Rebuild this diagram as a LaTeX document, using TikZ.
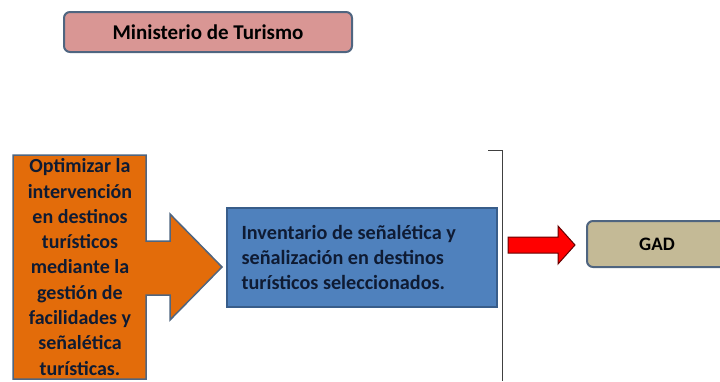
\documentclass[tikz,border=0pt]{standalone}
\usepackage{fontspec}
\setmainfont{Carlito}
\definecolor{rosa}{HTML}{D99694}
\definecolor{naranja}{HTML}{E36C0A}
\definecolor{azul}{HTML}{4F81BD}
\definecolor{azulborde}{HTML}{385D8A}
\definecolor{borde}{HTML}{4F6580}
\definecolor{arena}{HTML}{C4BA96}
\definecolor{tinta}{HTML}{0F1B33}
\tikzset{
  caja/.style={draw=borde,line width=2pt,rounded corners=6pt,font=\bfseries\fontsize{19}{25}\selectfont,inner sep=0pt},
}
\begin{document}
\begin{tikzpicture}[x=1pt,y=-1pt]
	\useasboundingbox (0,0) rectangle (720,381);
	% organismo rector
	\node[caja,fill=rosa,minimum width=288pt,minimum height=40pt,font=\bfseries\fontsize{21}{25}\selectfont] (ministerio) at (208,32) {Ministerio de Turismo};
	% objetivo con flecha
	\draw[borde,line width=1.5pt,fill=naranja] (13,155) -- (146,155) -- (146,241) -- (170,241) -- (170,214)
		-- (222,267) -- (170,320) -- (170,295) -- (146,295) -- (146,379) -- (13,379) -- cycle;
	\node[align=center,font=\bfseries\fontsize{20}{25.3}\selectfont,text=tinta] (objetivo) at (80,267)
		{Optimizar la\\intervención\\en destinos\\turísticos\\mediante la\\gestión de\\facilidades y\\señalética\\turísticas.};
	% producto
	\node[draw=azulborde,line width=1.5pt,fill=azul,minimum width=270pt,minimum height=99pt] (inventario) at (362,257.5) {};
	\node[anchor=west,align=left,font=\bfseries\fontsize{20.2}{25}\selectfont,text=tinta] (texto) at (238,257)
		{Inventario de señalética y\\señalización en destinos\\turísticos seleccionados.};
	% separador
	\draw[black!75,line width=1pt] (488,150) -- (502,150) -- (502,381);
	% flecha roja
	\draw[black!60!red,line width=1pt,fill=red] (508,237) -- (558,237) -- (558,226) -- (575,245)
		-- (558,264) -- (558,253) -- (508,253) -- cycle;
	% responsable
	\node[caja,fill=arena,minimum width=140pt,minimum height=46pt] (gad) at (657,244) {};
	\node[font=\bfseries\fontsize{19}{25}\selectfont] at (gad.center) {GAD};
\end{tikzpicture}
\end{document}
